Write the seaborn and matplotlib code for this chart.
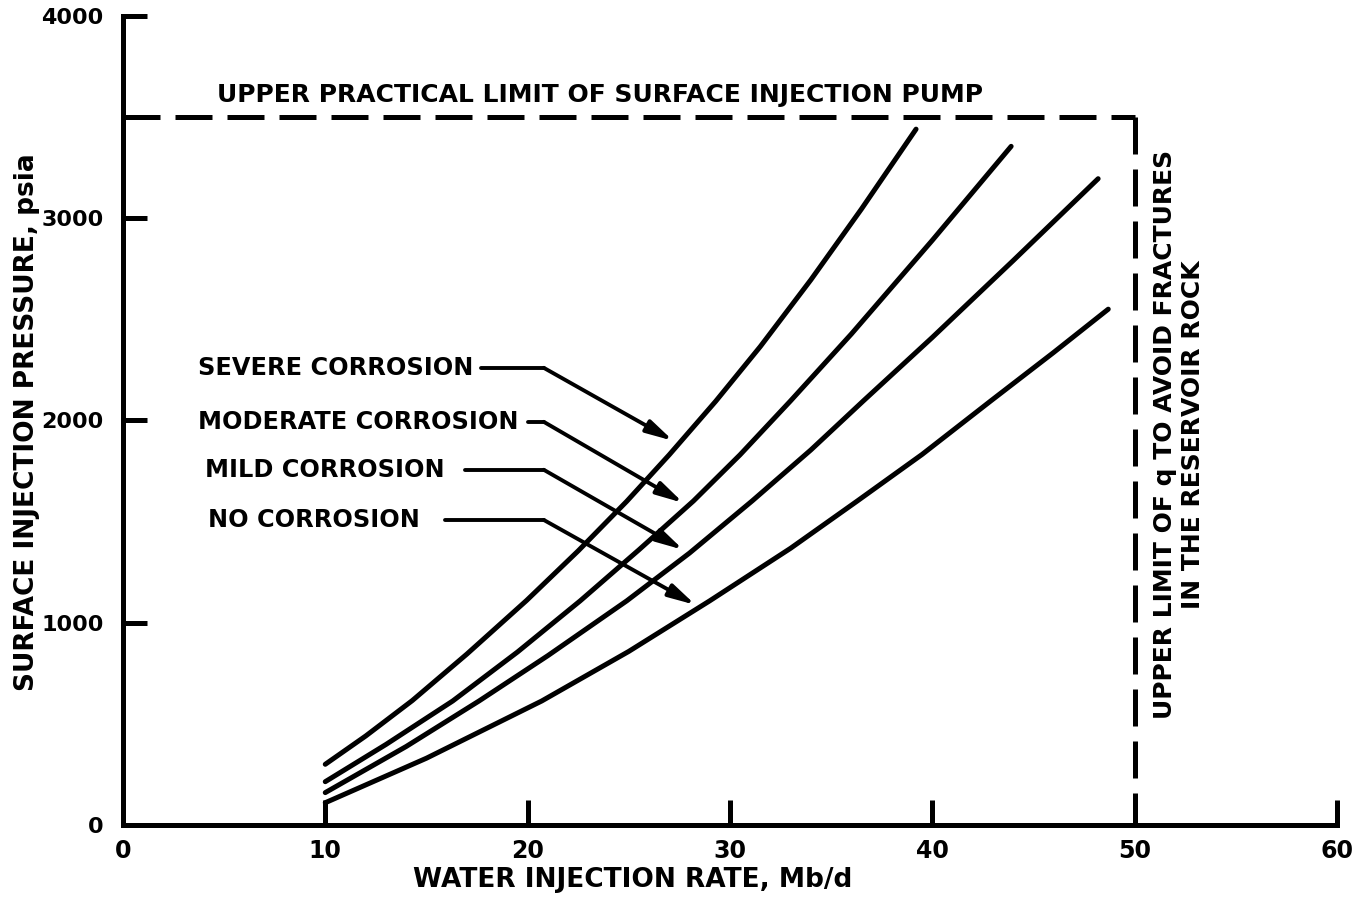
import numpy as np
import pandas as pd
import matplotlib
matplotlib.use("Agg")
import matplotlib.pyplot as plt
import seaborn as sns

# Injection-pressure curves, pressure (psia) vs water injection rate (Mb/d)
severe_q = [10, 12, 14.3, 17, 19.95, 22.5, 24.9, 27, 29.3, 31.5, 34, 36.5, 39.2]
severe_p = [300, 440, 615, 845, 1110, 1355, 1600, 1830, 2095, 2365, 2695, 3045, 3440]

moderate_q = [10, 13, 16.3, 19.5, 22.6, 25.5, 28.2, 30.5, 33.0, 36, 40, 43.9]
moderate_p = [214, 398, 613, 855, 1108, 1360, 1602, 1830, 2097, 2427, 2890, 3355]

mild_q = [10, 14, 17.6, 21, 24.9, 28, 31.1, 34, 36.6, 40, 44, 48.2]
mild_p = [160, 388, 613, 837, 1108, 1344, 1602, 1854, 2097, 2410, 2790, 3195]

none_q = [10, 15, 20.7, 25, 29.0, 33, 36.3, 39.5, 42.9, 46, 48.7]
none_p = [110, 330, 613, 858, 1108, 1368, 1602, 1832, 2097, 2336, 2550]

curve_names = ["SEVERE CORROSION", "MODERATE CORROSION", "MILD CORROSION", "NO CORROSION"]

x_ticks = [0, 10, 20, 30, 40, 50, 60]
y_ticks = [0, 1000, 2000, 3000, 4000]

pump_limit = 3500
rate_limit = 50

# Label anchors (rate, pressure) and arrow tips for each curve
label_left_q = [3.7, 3.7, 4.06, 4.2]
label_p = [2260, 1993, 1756, 1508]
leader_start_q = [17.7, 20.0, 16.9, 15.9]
leader_kink_q = [20.8, 20.8, 20.8, 20.8]
arrow_tip_q = [27.2, 27.7, 27.7, 28.3]
arrow_tip_p = [1899, 1592, 1360, 1088]

sns.set_style("white")
family = ["DejaVu Sans"]
plt.rcParams["font.family"] = family
plt.rcParams["font.weight"] = "bold"

frames = []
for name, q, p in zip(curve_names,
                      [severe_q, moderate_q, mild_q, none_q],
                      [severe_p, moderate_p, mild_p, none_p]):
    frames.append(pd.DataFrame({"rate": q, "pressure": p, "curve": name}))
df = pd.concat(frames, ignore_index=True)

fig = plt.figure(figsize=(13.6, 8.97), dpi=100)
ax = fig.add_axes([0.0904, 0.0803, 0.8926, 0.902])

sns.lineplot(data=df, x="rate", y="pressure", hue="curve", units="curve",
             estimator=None, sort=False, palette=["black"] * 4, linewidth=3.6,
             legend=False, ax=ax, solid_capstyle="round", solid_joinstyle="round")

ax.set_xlim(0, 60)
ax.set_ylim(0, 4000)

# Limit lines
ax.plot([0, rate_limit], [pump_limit, pump_limit], color="black", lw=3.6,
        dashes=(7.4, 3), clip_on=False)
ax.plot([rate_limit, rate_limit], [pump_limit, 0], color="black", lw=3.6,
        dashes=(7.4, 3), clip_on=False)

txt_kw = dict(color="black", fontweight="bold", family=family)

ax.text(23.6, 3610, "UPPER PRACTICAL LIMIT OF SURFACE INJECTION PUMP",
        ha="center", va="center", fontsize=18, **txt_kw)
ax.text(52.2, 1930, "UPPER LIMIT OF q TO AVOID FRACTURES\nIN THE RESERVOIR ROCK",
        ha="center", va="center", rotation=90, fontsize=18, linespacing=1.25,
        multialignment="center", **txt_kw)

for i, name in enumerate(curve_names):
    ax.text(label_left_q[i], label_p[i], name, ha="left", va="center",
            fontsize=17.3, **txt_kw)
    ax.plot([leader_start_q[i], leader_kink_q[i]], [label_p[i], label_p[i]],
            color="black", lw=2.8, solid_capstyle="round")
    ax.annotate("", xy=(arrow_tip_q[i], arrow_tip_p[i]),
                xytext=(leader_kink_q[i], label_p[i]),
                arrowprops=dict(arrowstyle="-|>,head_length=1.0,head_width=0.25",
                                color="black", lw=2.8, mutation_scale=16,
                                shrinkA=0, shrinkB=0))

# Axes styling
for side in ["top", "right"]:
    ax.spines[side].set_visible(False)
for side in ["left", "bottom"]:
    ax.spines[side].set_linewidth(3.6)
    ax.spines[side].set_color("black")

ax.set_xticks(x_ticks)
ax.set_yticks(y_ticks)
ax.set_xticklabels([str(v) for v in x_ticks])
ax.set_yticklabels([str(v) for v in y_ticks])
ax.tick_params(axis="x", bottom=True, direction="in", length=18, width=3.6,
               pad=10, labelsize=17, colors="black")
ax.tick_params(axis="y", left=True, direction="in", length=17, width=3.6,
               pad=14, labelsize=16, colors="black")
for lab in ax.get_xticklabels() + ax.get_yticklabels():
    lab.set_fontweight("bold")
ax.xaxis.get_major_ticks()[0].tick1line.set_visible(False)
ax.yaxis.get_major_ticks()[0].tick1line.set_visible(False)
ax.xaxis.get_major_ticks()[5].tick1line.set_visible(False)

ax.set_xlabel("WATER INJECTION RATE, Mb/d", fontsize=19, fontweight="bold",
              color="black")
ax.xaxis.set_label_coords(0.42, -0.052)
ax.set_ylabel("SURFACE INJECTION PRESSURE, psia", fontsize=19,
              fontweight="bold", color="black")
ax.yaxis.set_label_coords(-0.068, 0.498)

fig.savefig("out.png", dpi=100, facecolor="white")
